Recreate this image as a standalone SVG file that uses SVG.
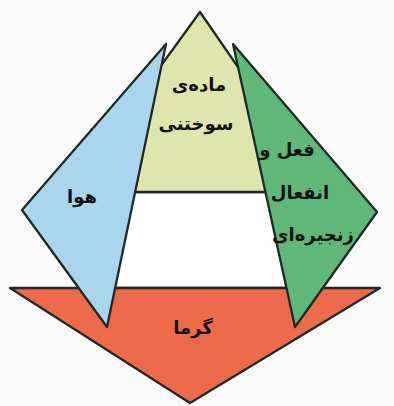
<svg xmlns="http://www.w3.org/2000/svg" width="394" height="406" viewBox="0 0 394 406">
<style>
.sh{stroke:#1f2a24;stroke-width:2.3;stroke-linejoin:round}
.t{font-family:"DejaVu Sans","Noto Sans",sans-serif;font-weight:bold;font-size:18px;fill:#111;text-anchor:middle}
</style>
<rect width="394" height="406" fill="#fbfbfb"/>
<g id="fuel">
<polygon class="sh" points="128,192 272,192 300,288 100,288" fill="#ffffff"/>
<polygon class="sh" points="200,12 160,67 129,192 271,192 240,70" fill="#dfe6ad"/>
<text class="t" x="199" y="91">ماده‌ی</text>
<text class="t" x="196" y="130">سوختنی</text>
</g>
<g id="heat">
<polygon class="sh" points="10,288 380,288 190,403" fill="#ed6b4a"/>
<text class="t" x="193" y="334">گرما</text>
</g>
<g id="air">
<polygon class="sh" points="166,44 22,210 107,327" fill="#a9d5ef"/>
<text class="t" x="82" y="203">هوا</text>
</g>
<g id="chain">
<polygon class="sh" points="233,44 377,212 295,327" fill="#5fb879"/>
<text class="t" x="287" y="156">فعل و</text>
<text class="t" x="300" y="199">انفعال</text>
<text class="t" x="313" y="241">زنجیره‌ای</text>
</g>
<g id="connectors"/>
</svg>
